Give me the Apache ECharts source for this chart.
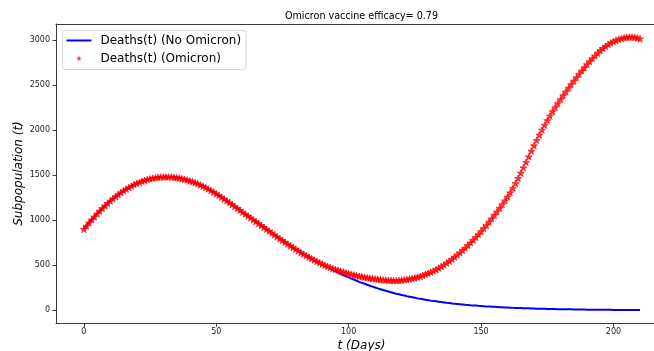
<!DOCTYPE html>
<html><head><meta charset="utf-8">
<script src="https://cdn.jsdelivr.net/npm/echarts@6/dist/echarts.min.js"></script>
<style>html,body{margin:0;padding:0;background:#fff}#c{width:654px;height:351px}</style>
</head><body><div id="c"></div>
<script>
const titleText = 'Omicron vaccine efficacy= 0.79';
const xLabel = 't (Days)';
const yLabel = 'Subpopulation (t)';
const seriesNames = ['Deaths(t) (No Omicron)', 'Deaths(t) (Omicron)'];
const xTicks = [0, 50, 100, 150, 200];
const yTicks = [0, 500, 1000, 1500, 2000, 2500, 3000];
const days = Array.from({length: 211}, (_, i) => i);

const deathsNoOmicron = [
900,937,972,1007,1040,1073,1104,1133,1162,1189,1215,1240,1264,1286,1308,1328,1346,1364,1380,1396,
1410,1422,1434,1444,1453,1461,1468,1473,1478,1481,1482,1483,1482,1481,1478,1474,1469,1463,1456,1448,
1439,1429,1418,1406,1393,1379,1364,1348,1331,1313,1295,1276,1257,1237,1217,1196,1175,1154,1133,1112,
1090,1069,1048,1027,1006,985,964,943,922,901,880,859,838,817,796,776,756,736,716,697,
678,660,642,624,607,590,573,556,540,524,508,492,477,462,447,433,419,405,391,378,
365,352,340,328,316,305,294,283,273,263,253,243,234,225,216,208,200,192,184,177,
170,163,156,150,144,138,132,127,122,117,112,107,103,99,95,91,87,83,80,76,
73,70,67,64,61,59,56,54,52,49,47,45,43,41,39,38,36,34,33,31,
30,29,27,26,25,24,23,22,21,20,19,18,17,16,16,15,14,14,13,12,
12,11,11,10,10,9,9,8,8,8,7,7,7,6,6,6,5,5,5,5,
4,4,4,4,3,3,3,3,3,3,2
];

const deathsOmicron = [
900,937,972,1007,1040,1073,1104,1133,1162,1189,1215,1240,1264,1286,1308,1328,1346,1364,1380,1396,
1410,1422,1434,1444,1453,1461,1468,1473,1478,1481,1482,1483,1482,1481,1478,1474,1469,1463,1456,1448,
1439,1429,1418,1406,1393,1379,1364,1348,1331,1313,1295,1276,1257,1237,1217,1196,1175,1154,1133,1112,
1090,1069,1048,1027,1006,985,964,943,922,901,880,859,838,817,796,776,756,736,716,697,
678,660,642,624,607,590,574,558,543,528,514,501,488,476,465,454,444,434,425,416,
408,400,393,386,379,373,367,362,357,352,348,344,340,337,335,333,332,331,331,332,
335,338,342,347,353,360,368,377,387,398,410,423,437,452,468,486,505,525,546,568,
591,615,640,666,693,721,750,780,811,843,876,910,945,981,1018,1056,1095,1135,1176,1218,
1261,1307,1357,1410,1466,1524,1584,1645,1707,1769,1830,1890,1948,2004,2058,2110,2160,2208,2254,2299,
2343,2386,2428,2469,2509,2548,2586,2624,2661,2697,2732,2766,2799,2830,2859,2886,2911,2934,2955,2973,
2988,3001,3012,3021,3028,3033,3036,3037,3034,3027,3018
];

const FONT = 'DejaVu Sans';
const STAR = 'path://M0,-1L0.2245,-0.309L0.951,-0.309L0.363,0.118L0.588,0.809L0,0.382L-0.588,0.809L-0.363,0.118L-0.951,-0.309L-0.2245,-0.309Z';
const LEGEND_LINE = 'path://M0,0M29,6M0,2H25V4H0Z';
const LEGEND_STAR = 'path://M0,0M29,6M12.5,0L13.174,2.073L15.353,2.073L13.59,3.354L14.264,5.427L12.5,4.146L10.736,5.427L11.41,3.354L9.647,2.073L11.826,2.073Z';

const chart = echarts.init(document.getElementById('c'), null, {renderer: 'canvas'});
const axisColor = '#3a3a3a';
const plain = v => String(v);
chart.setOption({
  animation: false,
  backgroundColor: '#ffffff',
  grid: {left: 56, right: 0, top: 24, bottom: 27.7, containLabel: false, outerBoundsMode: 'none'},
  xAxis: [{
    type: 'value', position: 'bottom', min: -10.5, max: 215.3,
    axisLine: {show: true, onZero: false, lineStyle: {color: axisColor, width: 1}},
    axisTick: {show: true, length: 3.5, customValues: xTicks, lineStyle: {color: axisColor}},
    axisLabel: {customValues: xTicks, formatter: plain, margin: 5, fontFamily: FONT, fontSize: 8, color: '#222'},
    splitLine: {show: false}
  }, {
    type: 'value', position: 'top', min: -10.5, max: 215.3,
    axisLine: {show: true, onZero: false, lineStyle: {color: axisColor, width: 1}},
    axisTick: {show: false}, axisLabel: {show: false}, splitLine: {show: false}
  }],
  yAxis: {
    type: 'value', min: -145, max: 3182,
    axisLine: {show: true, onZero: false, lineStyle: {color: axisColor, width: 1}},
    axisTick: {show: true, length: 3.5, customValues: yTicks, lineStyle: {color: axisColor}},
    axisLabel: {customValues: yTicks, formatter: plain, margin: 6, fontFamily: FONT, fontSize: 8, color: '#222'},
    splitLine: {show: false}
  },
  legend: {
    orient: 'vertical', left: 62.5, top: 30.5,
    itemWidth: 29, itemHeight: 6, itemGap: 4,
    padding: [3, 5, 4, 4],
    borderColor: '#d6d6d6', borderWidth: 1, borderRadius: 3,
    backgroundColor: 'rgba(255,255,255,0.8)',
    textStyle: {fontFamily: FONT, fontSize: 12, color: '#000', lineHeight: 14},
    itemStyle: {borderWidth: 0},
    data: [
      {name: seriesNames[0], icon: LEGEND_LINE},
      {name: seriesNames[1], icon: LEGEND_STAR}
    ]
  },
  graphic: [
    {type: 'text', x: 361.5, y: 16, style: {text: titleText, align: 'center', verticalAlign: 'middle', textAlign: 'center', textVerticalAlign: 'middle', fontFamily: FONT, fontSize: 9.6, fill: '#000'}},
    {type: 'text', x: 361.5, y: 345.5, style: {text: xLabel, align: 'center', verticalAlign: 'middle', textAlign: 'center', textVerticalAlign: 'middle', fontFamily: FONT, fontSize: 12, fontStyle: 'italic', fill: '#000'}},
    {type: 'text', x: 18.5, y: 173.5, rotation: Math.PI / 2, style: {text: yLabel, align: 'center', verticalAlign: 'middle', textAlign: 'center', textVerticalAlign: 'middle', fontFamily: FONT, fontSize: 12, fontStyle: 'italic', fill: '#000'}}
  ],
  series: [
    {name: seriesNames[0], type: 'line', xAxisIndex: 0, data: days.map((d, i) => [d, deathsNoOmicron[i]]),
     symbol: 'none', showSymbol: false, lineStyle: {color: '#0000ff', width: 2}, itemStyle: {color: '#0000ff'}, z: 2},
    {name: seriesNames[1], type: 'scatter', xAxisIndex: 0, data: days.map((d, i) => [d, deathsOmicron[i]]),
     symbol: STAR, symbolSize: 7, symbolKeepAspect: true, itemStyle: {color: '#ff0000', borderColor: '#ff0000', borderWidth: 0.8}, z: 3}
  ]
});
</script>
</body></html>
